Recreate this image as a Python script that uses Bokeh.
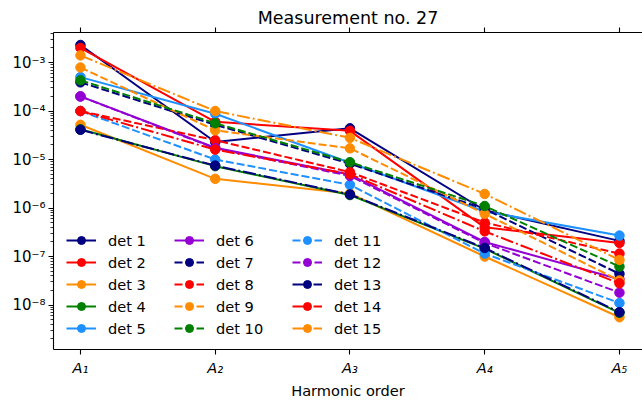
from bokeh.plotting import figure
from bokeh.models import (FixedTicker, LinearAxis, Legend, LegendItem,
                          CustomJSTickFormatter, Range1d)
from bokeh.embed import file_html
from bokeh.resources import INLINE

# ---------------- data ----------------
harmonics = ["A\u2081", "A\u2082", "A\u2083", "A\u2084", "A\u2085"]
det_names = ["det 1", "det 2", "det 3", "det 4", "det 5", "det 6", "det 7", "det 8",
             "det 9", "det 10", "det 11", "det 12", "det 13", "det 14", "det 15"]

det1 = [2.3e-3, 2.3e-5, 4.4e-5, 9.0e-7, 2.1e-7]
det2 = [2.0e-3, 6.0e-5, 3.9e-5, 4.0e-7, 1.9e-7]
det3 = [5.2e-5, 4.0e-6, 2.0e-6, 1.0e-7, 5.6e-9]
det4 = [4.2e-5, 7.3e-6, 1.85e-6, 1.45e-7, 6.9e-9]
det5 = [5.0e-4, 8.8e-5, 8.6e-6, 8.5e-7, 2.7e-7]
det6 = [2.0e-4, 1.75e-5, 4.9e-6, 2.0e-7, 3.4e-8]
det7 = [3.9e-4, 5.2e-5, 8.2e-6, 9.5e-7, 4.4e-8]
det8 = [1.0e-4, 2.5e-5, 5.5e-6, 5.0e-7, 1.15e-7]
det9 = [7.9e-4, 4.0e-5, 1.7e-5, 7.6e-7, 3.2e-8]
det10 = [4.3e-4, 5.6e-5, 8.8e-6, 1.1e-6, 6.2e-8]
det11 = [1.0e-4, 1.0e-5, 3.0e-6, 1.15e-7, 1.1e-8]
det12 = [2.0e-4, 1.7e-5, 4.6e-6, 1.9e-7, 1.8e-8]
det13 = [4.1e-5, 7.5e-6, 1.9e-6, 1.5e-7, 7.1e-9]
det14 = [1.0e-4, 1.6e-5, 5.0e-6, 3.3e-7, 2.8e-8]
det15 = [1.4e-3, 1.0e-4, 2.8e-5, 1.95e-6, 8.5e-8]

series = [det1, det2, det3, det4, det5, det6, det7, det8, det9, det10,
          det11, det12, det13, det14, det15]

y_major = [1e-8, 1e-7, 1e-6, 1e-5, 1e-4, 1e-3]

# ---------------- style ----------------
colors = ["navy", "red", "darkorange", "green", "dodgerblue", "darkviolet"]
dashes = ["solid", "8 3", "13 3 2 3"]
FONT = "DejaVu Sans"
FS = "14.6px"

p = figure(width=642, height=401, y_axis_type="log",
           x_range=Range1d(-0.2, 4.171), y_range=Range1d(1.21e-9, 4.16e-3),
           output_backend="svg", toolbar_location=None,
           min_border_left=53, min_border_right=0, min_border_top=32,
           min_border_bottom=52)
p.outline_line_color = None
p.grid.visible = False
p.background_fill_color = "white"
p.border_fill_color = "white"

p.title.text = "Measurement no. 27"
p.title.text_font = FONT
p.title.text_font_size = "17.5px"
p.title.text_font_style = "normal"
p.title.text_color = "black"
p.title.align = "center"
p.title.offset = 2
p.title.standoff = 0

x = list(range(len(harmonics)))

# x axis (bottom)
xa = p.xaxis[0]
xa.ticker = FixedTicker(ticks=x)
xa.major_label_overrides = {i: h for i, h in enumerate(harmonics)}
xa.major_label_text_font = FONT
xa.major_label_text_font_size = FS
xa.major_label_text_font_style = "italic"
xa.major_label_text_color = "black"
xa.major_label_standoff = 4
xa.major_tick_out = 5
xa.major_tick_in = 0
xa.minor_tick_out = 0
xa.minor_tick_in = 0
xa.axis_line_color = "black"
xa.axis_line_width = 1.1
xa.major_tick_line_width = 1.1
xa.axis_label = "Harmonic order"
xa.axis_label_text_font = FONT
xa.axis_label_text_font_size = FS
xa.axis_label_text_font_style = "normal"
xa.axis_label_text_color = "black"
xa.axis_label_standoff = 3

# top axis (ticks only)
ta = LinearAxis(ticker=FixedTicker(ticks=x),
                formatter=CustomJSTickFormatter(code="return '';"),
                major_label_standoff=0, major_tick_out=5, major_tick_in=0,
                minor_tick_out=0, minor_tick_in=0, axis_line_color="black",
                axis_line_width=1.1, major_tick_line_width=1.1)
p.add_layout(ta, "above")

# y axis (log)
ya = p.yaxis[0]
minor = [k * 10.0 ** e for e in range(-9, -2) for k in range(2, 10)]
ya.ticker = FixedTicker(ticks=y_major, minor_ticks=minor)
ya.formatter = CustomJSTickFormatter(code="""
const s = {"-":"\u207b","0":"\u2070","1":"\u00b9","2":"\u00b2","3":"\u00b3",
           "4":"\u2074","5":"\u2075","6":"\u2076","7":"\u2077","8":"\u2078","9":"\u2079"};
const e = Math.round(Math.log10(tick));
return "10" + String(e).split("").map(c => s[c]).join("");
""")
ya.major_label_text_font = FONT
ya.major_label_text_font_size = "15px"
ya.major_label_text_color = "black"
ya.major_label_standoff = 3
ya.major_tick_out = 5
ya.major_tick_in = 0
ya.minor_tick_out = 3
ya.minor_tick_in = 0
ya.axis_line_color = "black"
ya.axis_line_width = 1.1
ya.major_tick_line_width = 1.1
ya.minor_tick_line_width = 0.8

items = []
for i, vals in enumerate(series):
    c = colors[i % 6]
    d = dashes[i // 6]
    rl = p.line(x, vals, line_color=c, line_width=2, line_dash=d)
    rs = p.scatter(x, vals, size=9.5, fill_color=c, line_color=c, line_width=1)
    items.append(LegendItem(label=det_names[i], renderers=[rl, rs]))

for col, xloc in enumerate([13, 121, 239]):
    leg = Legend(items=items[col * 5:(col + 1) * 5], location=(xloc, 11),
                 border_line_color=None, background_fill_alpha=0,
                 padding=0, margin=0, spacing=2, glyph_width=30, glyph_height=20,
                 label_height=20, label_standoff=12, label_text_font=FONT,
                 label_text_font_size=FS, label_text_color="black")
    p.add_layout(leg)

open("out.html", "w").write(file_html(p, INLINE))
